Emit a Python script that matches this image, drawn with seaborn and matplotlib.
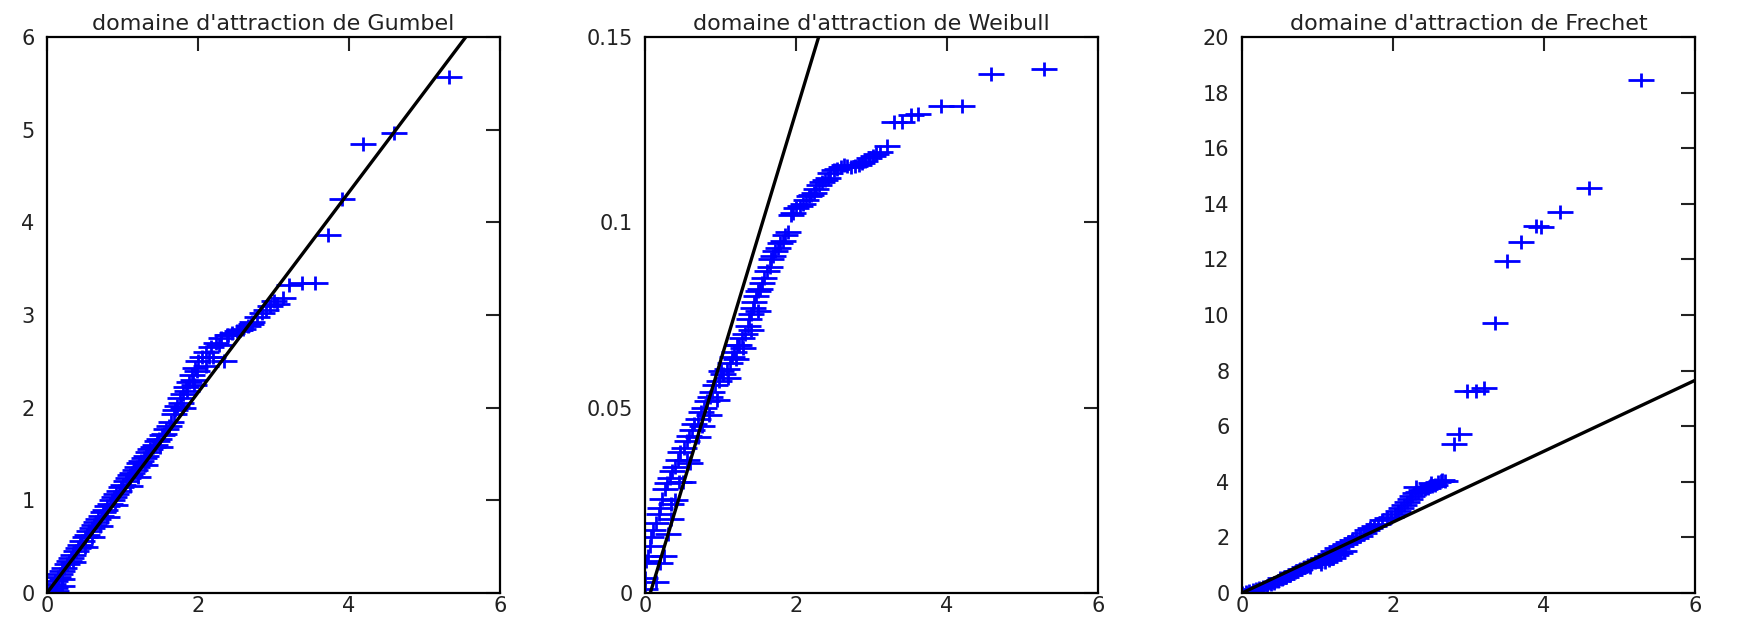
import numpy as np
import matplotlib
matplotlib.use("Agg")
import matplotlib.pyplot as plt
from matplotlib.path import Path
import seaborn as sns

sns.set_style("white")
plt.rcParams['font.family'] = ['DejaVu Sans']

# QQ-plot points (x = theoretical quantile, y = sorted sample)
gumbel_x = [5.32, 4.59, 4.19, 3.91, 3.72, 3.55, 3.38, 3.20, 3.12, 3.05, 2.95, 2.85,
            2.78, 2.72, 2.66, 2.60, 2.52, 2.45, 2.38, 2.31, 2.24, 2.17, 2.10, 2.05,
            2.00, 1.96, 1.92, 1.88, 1.84, 1.80, 1.76, 1.72, 1.68, 1.64, 1.58, 1.52,
            1.46, 1.40, 1.34, 1.28, 1.22, 1.16, 1.10, 1.04, 0.98, 0.92, 0.86, 0.80,
            0.74, 0.68, 0.62, 0.56, 0.50, 0.44, 0.38, 0.32, 0.26, 0.20, 0.14, 0.08,
            0.03, 0.10, 0.20, 0.35, 0.50, 0.70, 0.90, 1.10, 1.30, 1.50, 1.95, 2.10,
            2.20, 0.12, 0.20,
            1.99, 1.94, 1.86, 1.78, 1.70, 1.62, 1.55, 1.49, 1.43, 1.37, 1.31, 1.25,
            1.19, 1.13, 1.07, 1.01, 0.95, 0.89, 0.83, 0.77, 0.71, 0.65, 0.59, 0.53,
            0.47, 0.41, 0.35, 0.29, 0.23, 0.17, 0.11, 2.15, 2.28, 2.40, 2.55, 2.70,
            2.90, 3.00, 2.35, 1.80, 0.60, 0.80, 1.20]
gumbel_y = [5.57, 4.96, 4.84, 4.25, 3.86, 3.34, 3.34, 3.32, 3.18, 3.12, 3.10, 3.02,
            2.98, 2.92, 2.88, 2.85, 2.83, 2.81, 2.78, 2.75, 2.70, 2.65, 2.60, 2.55,
            2.50, 2.43, 2.35, 2.28, 2.22, 2.15, 2.10, 2.02, 1.93, 1.85, 1.77, 1.70,
            1.64, 1.58, 1.52, 1.46, 1.40, 1.33, 1.27, 1.21, 1.14, 1.07, 1.00, 0.94,
            0.87, 0.80, 0.73, 0.67, 0.60, 0.52, 0.45, 0.38, 0.31, 0.24, 0.17, 0.10,
            0.03, 0.05, 0.15, 0.33, 0.50, 0.72, 0.95, 1.15, 1.38, 1.58, 2.25, 2.45,
            2.55, 0.02, 0.08,
            2.40, 2.30, 2.18, 2.05, 1.98, 1.80, 1.72, 1.66, 1.60, 1.55, 1.48, 1.42,
            1.36, 1.29, 1.24, 1.17, 1.10, 1.04, 0.96, 0.90, 0.83, 0.77, 0.70, 0.63,
            0.56, 0.49, 0.41, 0.35, 0.27, 0.20, 0.13, 2.55, 2.68, 2.78, 2.84, 2.90,
            3.05, 3.15, 2.50, 2.00, 0.60, 0.82, 1.25]

weibull_x = [5.29, 4.58, 4.20, 3.92, 3.61, 3.52, 3.40, 3.30, 3.21, 3.11, 3.02, 2.92,
             2.83, 2.73, 2.64, 2.54, 2.45, 2.38, 2.31, 2.24, 2.17, 2.09, 2.00, 1.93,
             1.86, 1.79, 1.72, 1.67, 1.62, 1.55, 1.50, 1.45, 1.41, 1.36, 1.29, 1.22,
             1.15, 1.08, 0.98, 0.89, 0.82, 0.74, 0.65, 0.58, 0.51, 0.44, 0.36, 0.29,
             0.22, 0.18, 0.10, 0.06, 0.01, 0.00, 0.00, 0.25, 0.35, 0.50, 0.60, 0.75,
             1.00, 0.15, 0.40,
             1.96, 1.90, 1.83, 1.76, 1.70, 1.65, 1.58, 1.52, 1.47, 1.43, 1.38, 1.32,
             1.25, 1.18, 1.12, 1.03, 0.93, 0.86, 0.78, 0.70, 0.62, 0.55, 0.47, 0.40,
             0.33, 0.26, 0.20, 0.14, 0.08, 0.04, 2.05, 2.13, 2.20, 2.27, 2.34, 2.42,
             2.50, 2.59, 2.68, 2.78, 2.88, 2.97, 3.06, 1.50, 1.40, 1.30, 1.20, 1.10,
             0.95, 0.85, 0.70, 0.55, 0.45, 0.35, 0.30, 0.20]
weibull_y = [0.1415, 0.1401, 0.1315, 0.1315, 0.1293, 0.1290, 0.1270, 0.1270, 0.1206,
             0.1190, 0.1180, 0.1166, 0.1156, 0.1150, 0.1156, 0.1145, 0.1134, 0.1113,
             0.1100, 0.1080, 0.1070, 0.1050, 0.1040, 0.1020, 0.0965, 0.0943, 0.0922,
             0.0900, 0.0870, 0.0837, 0.0816, 0.0785, 0.0753, 0.0721, 0.0689, 0.0668,
             0.0636, 0.0604, 0.0572, 0.0541, 0.0519, 0.0488, 0.0456, 0.0424, 0.0392,
             0.0360, 0.0329, 0.0297, 0.0254, 0.0212, 0.0170, 0.0127, 0.0085, 0.0040,
             0.0010, 0.0100, 0.0200, 0.0300, 0.0350, 0.0450, 0.0600, 0.0030, 0.0250,
             0.1025, 0.0975, 0.0950, 0.0930, 0.0910, 0.0880, 0.0850, 0.0820, 0.0800,
             0.0770, 0.0740, 0.0700, 0.0670, 0.0650, 0.0620, 0.0590, 0.0560, 0.0530,
             0.0500, 0.0470, 0.0440, 0.0410, 0.0380, 0.0340, 0.0310, 0.0280, 0.0230,
             0.0190, 0.0150, 0.0100, 0.1045, 0.1060, 0.1075, 0.1090, 0.1110, 0.1120,
             0.1140, 0.1150, 0.1153, 0.1153, 0.1160, 0.1173, 0.1185, 0.0760, 0.0710,
             0.0660, 0.0630, 0.0580, 0.0520, 0.0480, 0.0420, 0.0360, 0.0300, 0.0240,
             0.0160, 0.0080]

frechet_x = [5.28, 4.60, 4.21, 3.96, 3.89, 3.69, 3.51, 3.35, 3.20, 3.10, 2.98, 2.88,
             2.81, 2.69, 2.64, 2.56, 2.47, 2.37, 2.29, 2.22, 2.15, 2.07, 1.98, 1.85,
             1.75, 1.66, 1.56, 1.46, 1.36, 1.26, 1.17, 1.07, 0.97, 0.87, 0.77, 0.68,
             0.58, 0.48, 0.38, 0.28, 0.19, 0.09, 0.00, 1.05, 1.15, 1.25, 0.90, 0.70,
             1.35, 0.50,
             2.60, 2.52, 2.43, 2.33, 2.25, 2.18, 2.11, 2.03, 1.92, 1.80, 1.70, 1.61,
             1.51, 1.41, 1.31, 1.21, 1.12, 1.02, 0.92, 0.82, 0.72, 0.63, 0.53, 0.43,
             0.33, 0.23, 0.14, 0.05, 1.20, 1.30, 1.10, 2.30, 2.50, 2.65]
frechet_y = [18.46, 14.57, 13.69, 13.15, 13.20, 12.63, 11.95, 9.71, 7.37, 7.27, 7.27,
             5.72, 5.36, 4.02, 4.02, 3.88, 3.78, 3.70, 3.60, 3.39, 3.18, 2.96, 2.75,
             2.61, 2.40, 2.26, 2.05, 1.91, 1.76, 1.62, 1.41, 1.27, 1.13, 0.99, 0.85,
             0.71, 0.56, 0.42, 0.31, 0.21, 0.14, 0.07, 0.00, 1.05, 1.20, 1.35, 0.95,
             0.75, 1.50, 0.55,
             3.98, 3.85, 3.75, 3.65, 3.50, 3.28, 3.07, 2.85, 2.68, 2.50, 2.33, 2.15,
             1.98, 1.83, 1.69, 1.50, 1.34, 1.20, 1.06, 0.92, 0.78, 0.63, 0.49, 0.37,
             0.26, 0.18, 0.10, 0.03, 1.25, 1.45, 1.10, 3.80, 3.95, 4.05]

# reference lines (end points)
gumbel_line_x = [0, 6]
gumbel_line_y = [0, 6.49]
weibull_line_x = [0.07, 2.30]
weibull_line_y = [0, 0.15]
frechet_line_x = [0, 6]
frechet_line_y = [0, 7.65]

titles = ["domaine d'attraction de Gumbel",
          "domaine d'attraction de Weibull",
          "domaine d'attraction de Frechet"]
x_ticks = [0, 2, 4, 6]
gumbel_yticks = [0, 1, 2, 3, 4, 5, 6]
weibull_yticks = [0, 0.05, 0.1, 0.15]
weibull_ylabels = ["0", "0.05", "0.1", "0.15"]
frechet_yticks = [0, 2, 4, 6, 8, 10, 12, 14, 16, 18, 20]

# wide, flat "+" marker like in the original
plus = Path([(-1, 0), (1, 0), (0, -0.5), (0, 0.5)],
            [Path.MOVETO, Path.LINETO, Path.MOVETO, Path.LINETO])


def qqpanel(ax, x, y, lx, ly, title, yticks, ylabels, ymax):
    sns.scatterplot(x=x, y=y, ax=ax, marker=plus, s=19 ** 2, color="#0000ff",
                    edgecolor="#0000ff", linewidth=2.0, zorder=2, clip_on=True)
    sns.lineplot(x=lx, y=ly, ax=ax, color="black", linewidth=2.4, zorder=3)
    ax.set_xlim(0, 6)
    ax.set_ylim(0, ymax)
    ax.set_xticks(x_ticks)
    ax.set_xticklabels([str(t) for t in x_ticks])
    ax.set_yticks(yticks)
    ax.set_yticklabels(ylabels)
    ax.tick_params(direction="in", top=True, right=True, length=10, width=1.5,
                   labelsize=15, colors="#222222")
    ax.tick_params(axis="y", pad=9)
    ax.tick_params(axis="x", pad=2.5)
    for s in ax.spines.values():
        s.set_color("black")
        s.set_linewidth(1.6)
    ax.set_title(title, fontsize=16, color="#222222", pad=5)
    ax.set_xlabel("")
    ax.set_ylabel("")


fig = plt.figure(figsize=(17.41, 6.17), dpi=100)
W, H = 1741.0, 617.0
bottom = (H - 593) / H
height = (593 - 37) / H
width = 453 / W

ax1 = fig.add_axes([47 / W, bottom, width, height])
ax2 = fig.add_axes([645 / W, bottom, width, height])
ax3 = fig.add_axes([1242 / W, bottom, width, height])

qqpanel(ax1, gumbel_x, gumbel_y, gumbel_line_x, gumbel_line_y, titles[0],
        gumbel_yticks, [str(t) for t in gumbel_yticks], 6)
qqpanel(ax2, weibull_x, weibull_y, weibull_line_x, weibull_line_y, titles[1],
        weibull_yticks, weibull_ylabels, 0.15)
qqpanel(ax3, frechet_x, frechet_y, frechet_line_x, frechet_line_y, titles[2],
        frechet_yticks, [str(t) for t in frechet_yticks], 20)

fig.savefig("out.png", dpi=100)
